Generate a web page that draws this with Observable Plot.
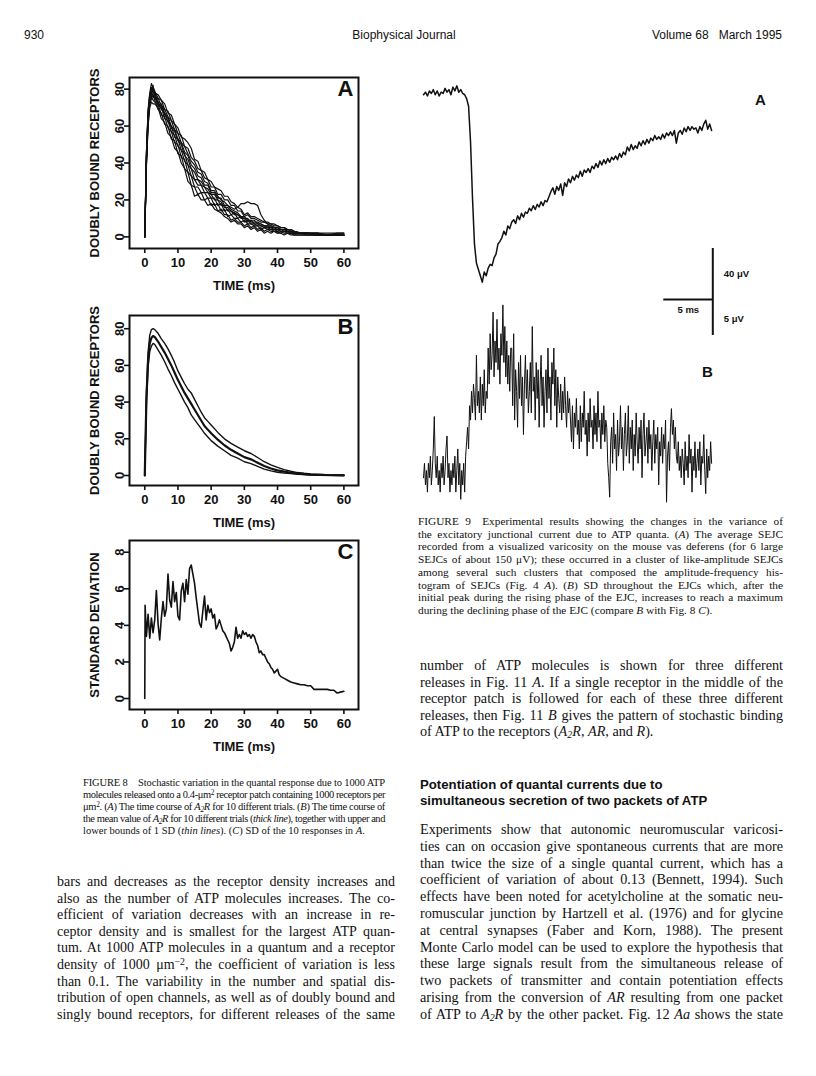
<!DOCTYPE html>
<html>
<head>
<meta charset="utf-8">
<script src="https://cdn.jsdelivr.net/npm/d3@7"></script>
<script src="https://cdn.jsdelivr.net/npm/@observablehq/plot@0.6"></script>
<style>
  html, body { margin: 0; padding: 0; background: #fff; }
  #page { position: relative; width: 816px; height: 1076px; overflow: hidden; background: #fff; color: #111; }
  .abs { position: absolute; }
  .blk { position: absolute; }
  .ln { white-space: nowrap; }
  .serif { font-family: "Liberation Serif", "Times New Roman", serif; }
  .sans { font-family: "Liberation Sans", Arial, Helvetica, sans-serif; }
  sub, sup { font-size: 70%; line-height: 0; }
  sub { vertical-align: -0.25em; }
  sup { vertical-align: 0.45em; }
  .plotbox { position: absolute; }
  .plotbox svg { display: block; max-width: none; overflow: visible; background: transparent; }
</style>
</head>
<body>
<div id="page">
  <!-- running header -->
  <div class="abs sans" style="left:24px;top:28px;font-size:12px;line-height:14px">930</div>
  <div class="abs sans" style="left:304px;width:200px;text-align:center;top:28px;font-size:12px;line-height:14px">Biophysical Journal</div>
  <div class="abs sans" style="left:582px;width:200px;text-align:right;top:28px;font-size:12px;line-height:14px">Volume 68&nbsp;&nbsp;&nbsp;March 1995</div>

  <div id="figA" class="plotbox" style="left:50px;top:57px"></div>
  <div id="figB" class="plotbox" style="left:50px;top:295px"></div>
  <div id="figC" class="plotbox" style="left:50px;top:520px"></div>
  <div id="traceA" class="plotbox" style="left:410px;top:75px"></div>
  <div id="traceB" class="plotbox" style="left:410px;top:290px"></div>

  <div class="abs sans" style="left:755px;top:91px;font-size:15px;font-weight:bold;line-height:18px">A</div>
  <div class="abs sans" style="left:702px;top:363px;font-size:15px;font-weight:bold;line-height:18px">B</div>

  <!-- Figure 8 caption -->
  <div class="blk serif" style="left:83px;top:777px;width:302px;font-size:10.5px;line-height:12px">
    <div class="ln j"><span>FIGURE 8&emsp;Stochastic variation in the quantal response due to 1000 ATP</span></div>
    <div class="ln j"><span>molecules released onto a 0.4-μm<sup>2</sup> receptor patch containing 1000 receptors per</span></div>
    <div class="ln j"><span>μm<sup>2</sup>. (<i>A</i>) The time course of <i>A<sub>2</sub>R</i> for 10 different trials. (<i>B</i>) The time course of</span></div>
    <div class="ln j"><span>the mean value of <i>A<sub>2</sub>R</i> for 10 different trials (<i>thick line</i>), together with upper and</span></div>
    <div class="ln"><span>lower bounds of 1 SD (<i>thin lines</i>). (<i>C</i>) SD of the 10 responses in <i>A</i>.</span></div>
  </div>

  <!-- Figure 9 caption -->
  <div class="blk serif" style="left:418px;top:515px;width:365px;font-size:11.3px;line-height:12.7px">
    <div class="ln j"><span>FIGURE 9&emsp;Experimental results showing the changes in the variance of</span></div>
    <div class="ln j"><span>the excitatory junctional current due to ATP quanta. (<i>A</i>) The average SEJC</span></div>
    <div class="ln j"><span>recorded from a visualized varicosity on the mouse vas deferens (for 6 large</span></div>
    <div class="ln j"><span>SEJCs of about 150 μV); these occurred in a cluster of like-amplitude SEJCs</span></div>
    <div class="ln j"><span>among several such clusters that composed the amplitude-frequency his-</span></div>
    <div class="ln j"><span>togram of SEJCs (Fig. 4 <i>A</i>). (<i>B</i>) SD throughout the EJCs which, after the</span></div>
    <div class="ln j"><span>initial peak during the rising phase of the EJC, increases to reach a maximum</span></div>
    <div class="ln"><span>during the declining phase of the EJC (compare <i>B</i> with Fig. 8 <i>C</i>).</span></div>
  </div>

  <!-- left body -->
  <div class="blk serif" style="left:57px;top:874px;width:338px;font-size:14px;line-height:16.6px">
    <div class="ln j"><span>bars and decreases as the receptor density increases and</span></div>
    <div class="ln j"><span>also as the number of ATP molecules increases. The co-</span></div>
    <div class="ln j"><span>efficient of variation decreases with an increase in re-</span></div>
    <div class="ln j"><span>ceptor density and is smallest for the largest ATP quan-</span></div>
    <div class="ln j"><span>tum. At 1000 ATP molecules in a quantum and a receptor</span></div>
    <div class="ln j"><span>density of 1000 μm<sup>−2</sup>, the coefficient of variation is less</span></div>
    <div class="ln j"><span>than 0.1. The variability in the number and spatial dis-</span></div>
    <div class="ln j"><span>tribution of open channels, as well as of doubly bound and</span></div>
    <div class="ln j"><span>singly bound receptors, for different releases of the same</span></div>
  </div>

  <!-- right body 1 -->
  <div class="blk serif" style="left:420px;top:657px;width:363px;font-size:14.2px;line-height:16.6px">
    <div class="ln j"><span>number of ATP molecules is shown for three different</span></div>
    <div class="ln j"><span>releases in Fig. 11 <i>A</i>. If a single receptor in the middle of the</span></div>
    <div class="ln j"><span>receptor patch is followed for each of these three different</span></div>
    <div class="ln j"><span>releases, then Fig. 11 <i>B</i> gives the pattern of stochastic binding</span></div>
    <div class="ln"><span>of ATP to the receptors (<i>A<sub>2</sub>R</i>, <i>AR</i>, and <i>R</i>).</span></div>
  </div>

  <!-- heading -->
  <div class="blk sans" style="left:420px;top:777px;width:363px;font-size:13.2px;font-weight:bold;line-height:16px">
    <div class="ln"><span>Potentiation of quantal currents due to</span></div>
    <div class="ln"><span>simultaneous secretion of two packets of ATP</span></div>
  </div>

  <!-- right body 2 -->
  <div class="blk serif" style="left:420px;top:821px;width:363px;font-size:14.2px;line-height:16.8px">
    <div class="ln j"><span>Experiments show that autonomic neuromuscular varicosi-</span></div>
    <div class="ln j"><span>ties can on occasion give spontaneous currents that are more</span></div>
    <div class="ln j"><span>than twice the size of a single quantal current, which has a</span></div>
    <div class="ln j"><span>coefficient of variation of about 0.13 (Bennett, 1994). Such</span></div>
    <div class="ln j"><span>effects have been noted for acetylcholine at the somatic neu-</span></div>
    <div class="ln j"><span>romuscular junction by Hartzell et al. (1976) and for glycine</span></div>
    <div class="ln j"><span>at central synapses (Faber and Korn, 1988). The present</span></div>
    <div class="ln j"><span>Monte Carlo model can be used to explore the hypothesis that</span></div>
    <div class="ln j"><span>these large signals result from the simultaneous release of</span></div>
    <div class="ln j"><span>two packets of transmitter and contain potentiation effects</span></div>
    <div class="ln j"><span>arising from the conversion of <i>AR</i> resulting from one packet</span></div>
    <div class="ln j"><span>of ATP to <i>A<sub>2</sub>R</i> by the other packet. Fig. 12 <i>Aa</i> shows the state</span></div>
  </div>
</div>

<script>
// ---------------- DATA ----------------
// Fig. 8A: doubly bound receptors (A2R) for 10 trials, sampled at these times (ms)
const timeA = [0,0.5,1,1.5,2,2.5,3,4,5,6,7,8,9,10,11,12,13,14,15,16,17,18,19,20,21,22,23,24,25,26,27,28,29,30,31,32,33,34,35,36,37,38,39,40,41,42,43,44,45,47,49,52,55,58,60];
const trial1  = [0,44,67,76,81,79, 76,71,70,64,63,57,55,49,47,41, 39,33,31,28,28,24,24,21,21,17, 18,14,15,12,13,10,11,8,9,7, 7,6,6,5,5,4,4,3,4,3, 3,2,2, 2,2,1,1,1,1];
const trial2  = [0,40,63,73,78,82, 76,75,71,69,65,63,58,56,51,49, 45,41,39,35,34,30,29,25,25,22, 20,19,17,16,15,16,18,18,19,18, 18,17,12,9,7,6,5,5,4,4, 3,3,2, 2,2,2,1,2,2];
const trial3  = [0,46,68,77,80,79, 78,77,74,72,67,66,61,59,54,53, 51,48,42,41,36,35,31,30,27,26, 25,22,22,19,18,16,15,12,13,11, 11,10,9,8,8,7,7,6,5,5, 4,4,3, 2,2,1,1,1,1];
const trial4  = [0,38,60,70,73,72, 72,70,64,62,56,54,48,46,40,37, 30,28,22,23,20,20,17,18,15,14, 13,11,10,8,9,7,7,5,6,4, 5,3,4,2,3,2,3,2,2,1, 2,1,1, 1,1,1,1,1,1];
const trial5  = [0,43,65,74,77,80, 78,73,72,67,65,60,58,53,51,46, 44,39,37,33,32,28,28,24,24,21, 21,17,17,15,14,13,11,11,9,9, 9,7,7,6,6,6,5,5,4,4, 4,3,3, 2,2,1,1,1,1];
const trial6  = [0,41,64,72,76,74, 73,72,66,65,59,57,51,50,43,42, 35,33,27,27,24,24,21,21,17,18, 14,15,11,12,10,10,8,9,7,7, 6,6,4,5,4,4,3,3,2,3, 2,2,1, 1,1,1,1,1,1];
const trial7  = [0,45,69,78,83,81, 79,75,74,69,68,63,61,56,55,49, 48,43,41,37,36,32,31,27,27,23, 23,20,20,17,17,14,14,11,12,10, 10,9,8,8,7,7,6,6,5,5, 4,4,3, 2,2,2,2,2,2];
const trial8  = [0,39,61,71,75,77, 74,69,67,61,60,53,52,45,44,37, 35,28,27,23,24,20,21,17,18,14, 15,12,12,9,10,8,8,6,7,5, 6,4,5,3,4,3,3,2,3,2, 2,2,1, 1,1,1,1,1,1];
const trial9  = [0,44,66,74,79,76, 75,73,69,67,62,60,54,53,47,45, 39,37,31,31,28,27,24,23,20,20, 17,17,14,14,12,12,10,10,8,9, 7,7,6,6,5,5,4,4,3,3, 3,2,2, 2,1,1,1,1,1];
const trial10 = [0,42,64,73,78,80, 77,72,71,66,64,59,57,52,50,44, 42,37,35,31,30,27,26,23,23,20, 19,16,16,14,13,12,11,10,10,8, 8,8,7,6,6,5,5,4,4,4, 3,3,2, 2,2,2,1,1,1];
const trials = [trial1, trial2, trial3, trial4, trial5, trial6, trial7, trial8, trial9, trial10];

// Fig. 8B: mean A2R and mean ± 1 SD
const timeB  = [0,0.5,1,1.5,2,2.5,3,4,5,6,7,8,9,10,11,12,13,14,15,16,17,18,19,20,22,24,26,28,30,32,34,36,38,40,42,44,46,48,50,53,56,60];
const meanB  = [0,42,63,72,75,76, 75.5,73,70,67,63.5,60,56,52,48.5,45,42,39,36,33,30,27,25,23, 19.5,16.5,14,12,10,8.8,7,5.2,3.8, 2.8,2.1,1.5,1.1,0.8,0.5, 0.3,0.15,0.1];
const upperB = [0,45,67,76.5,79.5,80, 79.5,77.5,74.5,72,69,65.5,61.5,57,53.5,50,47,45,41.5,38,34.5,31.5,29.5,27.5, 23.5,20,17.5,15.5,13.5,12,9.8,7.5,5.8, 4.4,3.2,2.3,1.6,1.2,0.9, 0.6,0.35,0.3];
const lowerB = [0,39,59,67.5,70.5,72, 71.5,68.5,65.5,62,58,54.5,50.5,47,43.5,40,37,33,30.5,28,25.5,23,21,19, 16,13.5,11,9.5,7.5,6.5,5,3.5,2.5, 1.8,1.3,1,0.7,0.5,0.3, 0.1,0.05,0];

// Fig. 8C: standard deviation of the 10 responses
const timeC = [0, 0.1, ...d3.range(0.5, 40.51, 0.5), ...d3.range(41, 61, 1)];
const sdC = [0, 5.1,
  3.4,4.6,3.3,4.4,3.6,4.3,5.9,4.1,3.2,4.4,
  5.3,4.5,4.9,6.8,5.4,5.0,6.4,5.3,5.8,4.5,
  4.3,5.9,6.3,5.3,6.5,5.7,7.1,7.3,6.8,6.3,
  5.5,4.8,4.1,3.9,4.8,5.6,4.3,5.1,4.7,4.9,
  4.4,4.6,3.8,4.0,4.3,4.0,3.7,3.6,3.4,3.2,
  3.0,2.6,2.8,3.1,3.9,3.3,3.5,3.3,3.7,3.5,
  3.6,3.4,3.5,3.3,3.5,3.4,3.1,2.9,2.5,2.6,
  2.4,2.4,2.2,2.0,1.9,1.7,1.6,1.4,1.5,1.6,
  1.3,
  1.2,1.1,1.0,0.9,0.85,0.8,0.75,0.75,0.7,0.7,0.5,0.5,0.5,0.5,0.5,0.45,0.45,0.3,0.35,0.4];

const ticksTime = [0,10,20,30,40,50,60];
const ticksBound = [0,20,40,60,80];
const ticksSD = [0,2,4,6,8];

// Fig. 9A: average SEJC (µV), sampled every 0.2 ms
const sampleMsA = 0.2;
const sejcA = [
  -1,1,-2,2,0,3,-1,2,-2,1,0,4,1,3,-1,5,2,6,1,3,0,-1,
  -4,-10,-38,-82,-118,-133,-138,-143,-148,-140,-143,-137,-134,-135,-129,-126,-118,-116,-113,
  -108,-111,-104,-106,-101,-99,-102,-96,-99,-94,
  -97,-93,-94,-90,-92,-88,-91,-87,-89,-85,
  -88,-84,-85,-81,-77,-74,-79,-73,-76,-71,
  -80,-70,-73,-67,-70,-65,-68,-64,-66,-61,
  -65,-60,-62,-59,-62,-57,-59,-55,-58,-53,
  -56,-52,-55,-51,-54,-50,-52,-49,-52,-47,
  -50,-46,-48,-42,-45,-40,-44,-41,-43,-38,
  -41,-37,-40,-36,-39,-35,-37,-33,-36,-34,
  -36,-32,-35,-31,-33,-30,-33,-29,-39,-31,
  -29,-32,-27,-30,-26,-29,-26,-28,-27,-31,
  -26,-29,-24,-21,-28,-24,-29];
// Fig. 9B: SD throughout the EJCs (µV), sampled every 0.1 ms
const sampleMsB = 0.1;
const sdEJC = [
  4,6,3,5,2,6,4,7,3,5, 8,12.5,6,4,7,3,5,2,6,4, 7,3,5,8,9.8,4,6,2,5,3, 6,4,7,2,5,8,3,6,1,5, 3,6,2,7,9,
  11,8,14,12,16,13,17,15,12,21, 14,16,13,18,12,17,14,19,13,16,
  15,22,17,24,19,21,27,18,23,20, 26,19,22,17,24,21,28,20,25,18, 23,17,21,16,22,
  22,14,24,12,19,16,11,20,15,21, 14,18,10,17,21,15,19,13,16,20, 13,25,16,18,12,20,15,19,11,17,
  21,14,18,11,16,19,13,22,15,18, 12,20,17,22,14,19,11,18,15,13,
  17,12,16,13,18,14,11,16,13,15,
  12,9,14,8,13,11,15,10,12,8, 14,9,13,11,16,10,12,7,13,9, 15,11,12,8,14,10,13,9,16,11, 12,8,13,10,14,9,12,11,
  6,4,1.3,9,11,6,13,8,10,5, 12,7,9,14,8,11,5,10,13,7, 9,14,6,11,8,12,5,10,7,13, 9,6,11,8,12,4,10,13,7,9,
  11,6,12,8,10,5,9,12,6,10, 8,11,3,9,7,11,6,10,8,12, 0.6,7,9,5,11,13.6,10,12,8,11, 7,
  6,9,5,7,4,8,6,3,9,5, 7,4,10,6,8,2,7,5,9,4, 6,8,5,9,3,7,6,10,5,1.8, 8,4,7,5,9,6];

// scale bars (in data units)
const barTimeMs = 5, barAmpA = 40, barAmpB = 5;

// ---------------- CHARTS ----------------
const font = "'Liberation Sans', Arial, Helvetica, sans-serif";
const panelStyle = {fontFamily: font, fontSize: "13px", fontWeight: "bold", background: "transparent", overflow: "visible", color: "#111"};

function panel({lines, yDomain, yTicks, yLabel, letter, height, frameH}) {
  return Plot.plot({
    width: 320, height,
    marginLeft: 79, marginRight: 12, marginTop: 20, marginBottom: height - 20 - frameH,
    style: panelStyle,
    x: {domain: [-4.6, 64.4]},
    y: {domain: yDomain},
    marks: [
      ...lines,
      Plot.frame({stroke: "#111", strokeWidth: 2}),
      Plot.axisX({ticks: ticksTime, tickSize: 5, tickPadding: 4, strokeWidth: 1.6, label: "TIME (ms)", labelAnchor: "center", labelOffset: 41, labelArrow: "none"}),
      Plot.axisY({ticks: yTicks, tickSize: 5, tickPadding: 1, tickRotate: -90, strokeWidth: 1.6, label: yLabel, labelAnchor: "center", labelOffset: 40, labelArrow: "none"}),
      Plot.text([letter], {text: d => d, frameAnchor: "top-right", dx: -5, dy: 3, fontSize: 22, fontWeight: "bold", lineAnchor: "top", textAnchor: "end"})
    ]
  });
}

const rowsA = trials.flatMap((tr, k) => tr.map((v, i) => ({t: timeA[i], v, trial: k + 1})));
document.getElementById("figA").append(panel({
  height: 243, frameH: 171, yDomain: [-6.3, 86.3], yTicks: ticksBound,
  yLabel: "DOUBLY BOUND RECEPTORS", letter: "A",
  lines: [Plot.line(rowsA, {x: "t", y: "v", z: "trial", stroke: "#111", strokeWidth: 1.2})]
}));

const rowsB = [
  ...meanB.map((v, i) => ({t: timeB[i], v, s: "mean"})),
  ...upperB.map((v, i) => ({t: timeB[i], v, s: "upper"})),
  ...lowerB.map((v, i) => ({t: timeB[i], v, s: "lower"}))
];
document.getElementById("figB").append(panel({
  height: 242, frameH: 170, yDomain: [-5.45, 87.2], yTicks: ticksBound,
  yLabel: "DOUBLY BOUND RECEPTORS", letter: "B",
  lines: [
    Plot.line(rowsB.filter(d => d.s !== "mean"), {x: "t", y: "v", z: "s", stroke: "#111", strokeWidth: 1.4}),
    Plot.line(rowsB.filter(d => d.s === "mean"), {x: "t", y: "v", stroke: "#111", strokeWidth: 2.2})
  ]
}));

const rowsC = sdC.map((v, i) => ({t: timeC[i], v}));
document.getElementById("figC").append(panel({
  height: 241, frameH: 169, yDomain: [-0.6, 8.64], yTicks: ticksSD,
  yLabel: "STANDARD DEVIATION", letter: "C",
  lines: [Plot.line(rowsC, {x: "t", y: "v", stroke: "#111", strokeWidth: 1.6})]
}));

// Fig. 9 traces
const traceStyle = {fontFamily: font, fontSize: "9.5px", fontWeight: "bold", background: "transparent", overflow: "visible"};
const xDomainTr = [-1.327, 37.45];
const barX = 29.52;
const rowsSA = sejcA.map((v, i) => ({t: i * sampleMsA, v}));
document.getElementById("traceA").append(Plot.plot({
  width: 380, height: 230, margin: 0, style: traceStyle,
  x: {domain: xDomainTr, axis: null},
  y: {domain: [-166.3, 14.1], axis: null},
  marks: [
    Plot.line(rowsSA, {x: "t", y: "v", stroke: "#111", strokeWidth: 1.5}),
    Plot.ruleX([barX], {y1: -121.6, y2: -121.6 - barAmpA, stroke: "#111", strokeWidth: 2}),
    Plot.text([`${barAmpA} μV`], {text: d => d, x: barX, y: -121.6 - barAmpA / 2, dx: 11, textAnchor: "start"})
  ]
}));

const rowsSB = sdEJC.map((v, i) => ({t: i * sampleMsB, v}));
const barTopB = 28.75;
document.getElementById("traceB").append(Plot.plot({
  width: 380, height: 230, margin: 0, style: traceStyle,
  x: {domain: xDomainTr, axis: null},
  y: {domain: [-1.94, 30], axis: null},
  marks: [
    Plot.line(rowsSB, {x: "t", y: "v", stroke: "#111", strokeWidth: 1}),
    Plot.ruleX([barX], {y1: barTopB - barAmpB, y2: barTopB, stroke: "#111", strokeWidth: 2}),
    Plot.ruleY([barTopB], {x1: barX - barTimeMs, x2: barX, stroke: "#111", strokeWidth: 2}),
    Plot.text([`${barTimeMs} ms`], {text: d => d, x: barX - barTimeMs / 2, y: barTopB - 1.4, textAnchor: "middle"}),
    Plot.text([`${barAmpB} μV`], {text: d => d, x: barX, y: barTopB - 2.65, dx: 11, textAnchor: "start"})
  ]
}));

// ---------------- justified text lines ----------------
function justify() {
  document.querySelectorAll(".blk").forEach(b => {
    const W = b.clientWidth;
    b.querySelectorAll(".ln").forEach(ln => {
      const sp = ln.querySelector("span");
      sp.style.wordSpacing = "0px"; sp.style.letterSpacing = "0px";
      const nat = sp.getBoundingClientRect().width;
      const txt = sp.textContent;
      if (nat > W) {
        sp.style.letterSpacing = ((W - nat) / txt.length) + "px";
      }
      if (ln.classList.contains("j")) {
        const nat2 = sp.getBoundingClientRect().width;
        const n = (txt.match(/[ \u00a0]/g) || []).length;
        if (n > 0 && nat2 < W) sp.style.wordSpacing = ((W - nat2) / n) + "px";
      }
    });
  });
}
justify();
if (document.fonts && document.fonts.ready) document.fonts.ready.then(justify);
</script>
</body>
</html>
